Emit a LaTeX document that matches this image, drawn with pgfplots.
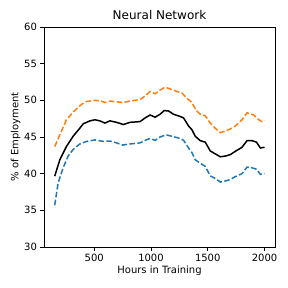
\documentclass[border=0pt]{standalone}
\usepackage{pgfplots}
\pgfplotsset{compat=1.18}
\usepackage{fontspec}
\setmainfont{DejaVu Sans}
\definecolor{mplblue}{HTML}{1F77B4}
\definecolor{mplorange}{HTML}{FF7F0E}
\begin{document}
\begin{tikzpicture}
\path[use as bounding box] (-44pt,-41pt) rectangle (244pt,247pt);
\begin{axis}[
  at={(0,0)}, anchor=south west,
  scale only axis, width=231pt, height=220pt,
  xmin=57.5, xmax=2092.5, ymin=30, ymax=60,
  xtick={500,1000,1500,2000}, ytick={30,35,...,60},
  tick align=outside, major tick length=3.5pt,
  tick style={black, line width=0.8pt},
  axis line style={line width=0.8pt},
  xtick pos=bottom, ytick pos=left,
  /pgf/number format/assume math mode=true,
  /pgf/number format/1000 sep={},
  tick label style={font=\fontsize{10}{12}\selectfont},
  label style={font=\fontsize{10}{12}\selectfont},
  title style={font=\fontsize{12}{14}\selectfont, yshift=-2pt},
  title={Neural Network},
  xlabel={Hours in Training},
  ylabel={\% of Employment},
  xlabel style={yshift=3pt},
  ylabel style={yshift=-3pt},
]
\addplot[mplorange, line width=1.5pt, dash pattern=on 5.55pt off 2.4pt] coordinates {
(152,43.7) (197,45.3) (255,47.35) (314,48.4) (373,49.25) (418,49.8) (506,50.0) (565,49.9) (594,49.7) (638,49.9) (756,49.7) (815,49.9) (904,50.1) (948,50.6) (992,51.2) (1036,50.9) (1080,51.4) (1124,51.8) (1169,51.55) (1228,51.2) (1272,51.0) (1316,50.3) (1360,49.7) (1399,48.6) (1434,48.1) (1478,47.9) (1522,46.9) (1566,46.2) (1611,45.6) (1655,45.8) (1699,46.1) (1743,46.5) (1802,47.35) (1846,48.3) (1905,48.0) (1950,47.35) (1979,47.1) (2000,47.25)
};
\addplot[mplblue, line width=1.5pt, dash pattern=on 5.55pt off 2.4pt] coordinates {
(152,35.7) (182,38.75) (226,40.8) (270,42.4) (314,43.3) (373,44.05) (432,44.4) (506,44.6) (580,44.4) (638,44.45) (697,44.2) (750,43.9) (815,44.05) (904,44.2) (948,44.55) (992,44.8) (1036,44.55) (1080,45.0) (1133,45.3) (1183,45.1) (1257,44.8) (1287,44.55) (1331,43.5) (1360,42.9) (1390,41.9) (1434,41.4) (1478,41.0) (1522,39.7) (1566,39.35) (1611,38.85) (1655,39.0) (1699,39.2) (1743,39.6) (1802,40.0) (1846,40.9) (1890,40.8) (1929,40.6) (1964,39.9) (2000,40.0)
};
\addplot[black, line width=1.5pt] coordinates {
(152,39.66) (197,41.9) (255,43.7) (314,45.1) (373,46.2) (403,46.8) (462,47.2) (506,47.35) (550,47.2) (594,46.9) (638,47.2) (697,47.0) (756,46.7) (815,47.0) (904,47.1) (948,47.6) (992,48.0) (1036,47.7) (1080,48.1) (1116,48.6) (1154,48.55) (1198,48.1) (1257,47.8) (1287,47.6) (1331,46.5) (1360,46.0) (1390,45.1) (1434,44.5) (1478,44.3) (1522,43.1) (1566,42.7) (1611,42.3) (1655,42.4) (1699,42.6) (1743,43.05) (1802,43.6) (1846,44.5) (1890,44.5) (1929,44.3) (1964,43.5) (2000,43.6)
};
\end{axis}
\end{tikzpicture}
\end{document}
